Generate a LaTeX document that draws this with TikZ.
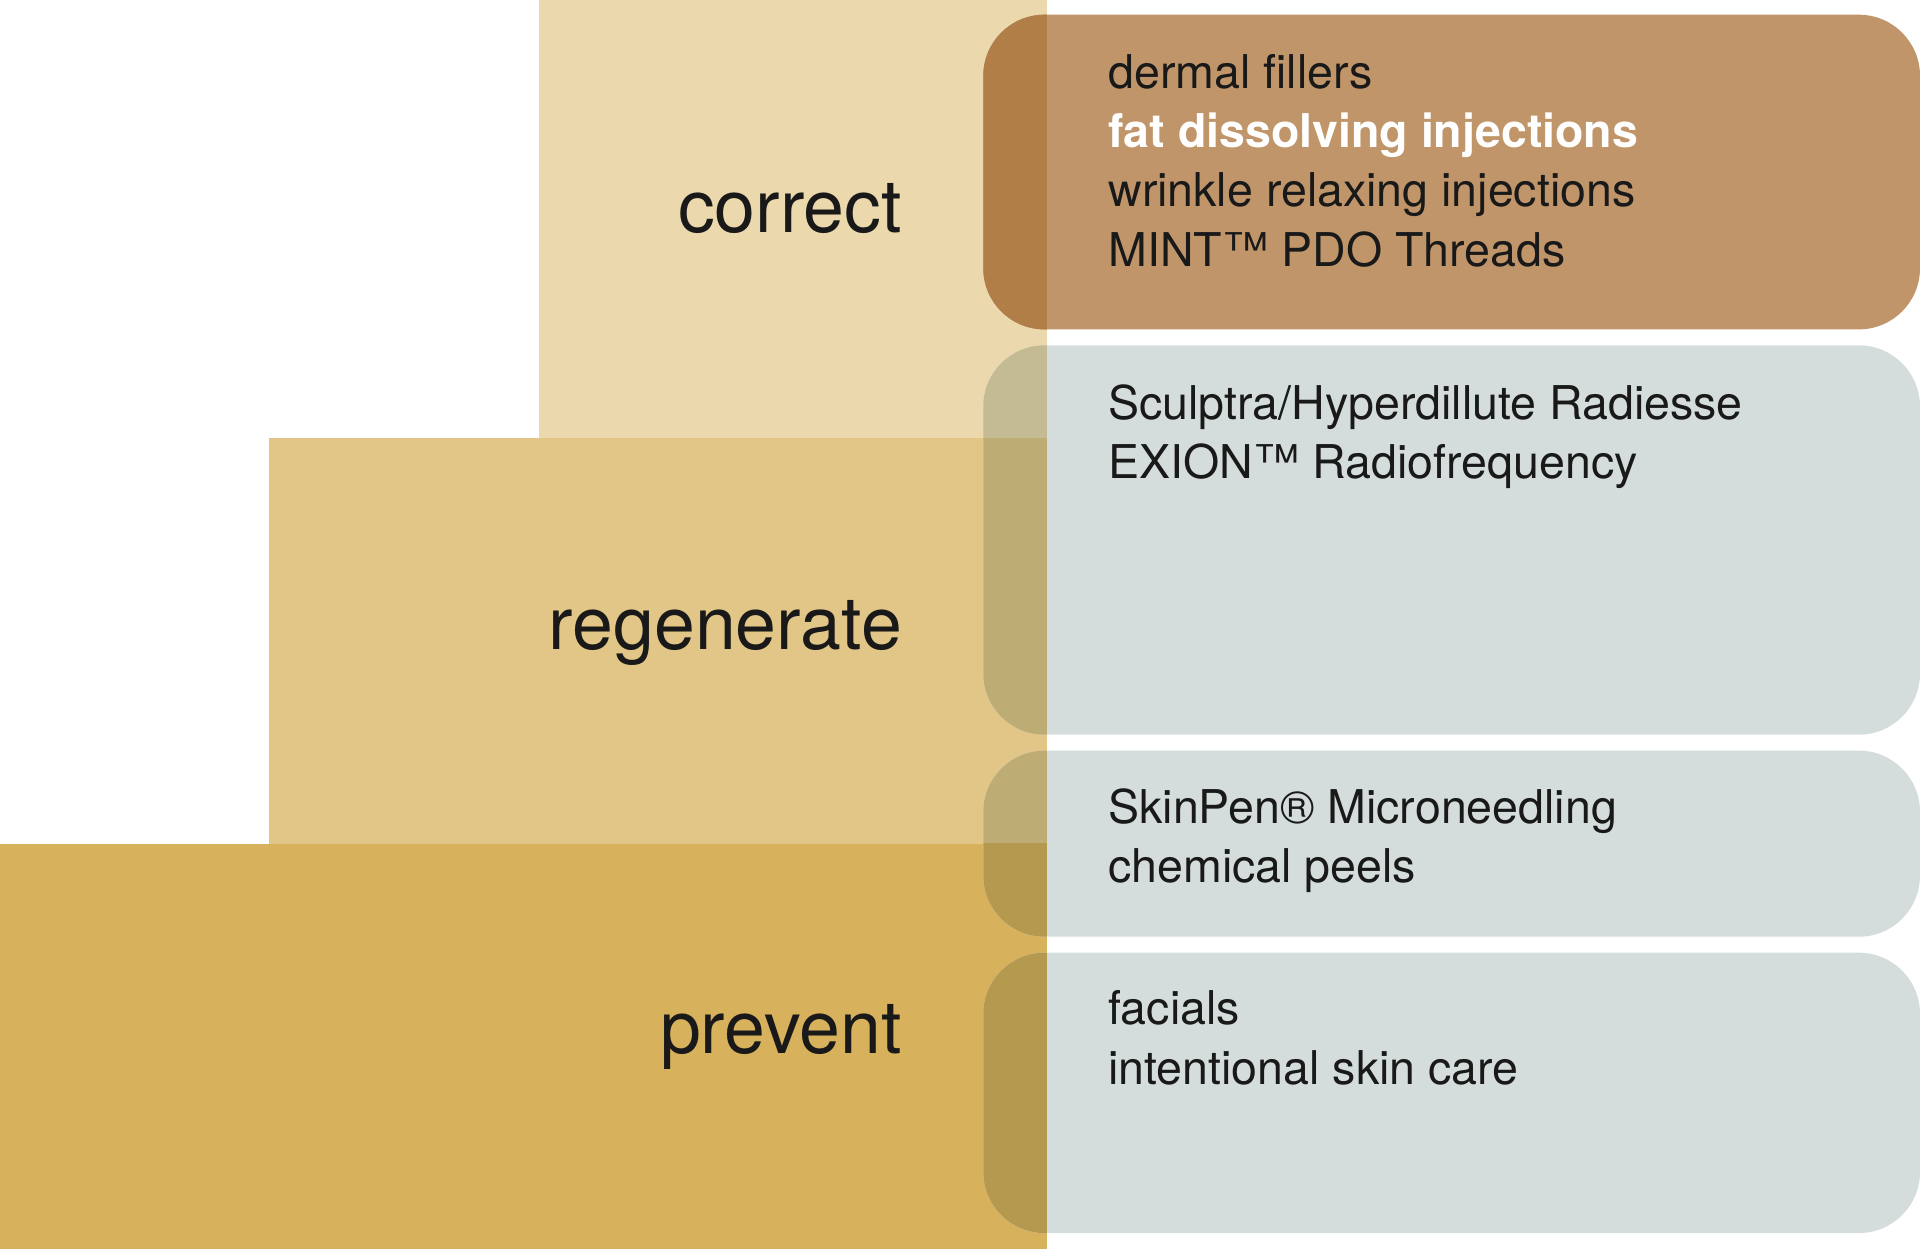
\documentclass[tikz,border=0pt]{standalone}
\usepackage{fontspec}
\setmainfont{TeX Gyre Heros}
\begin{document}
\begin{tikzpicture}[x=1pt,y=-1pt,
  lab/.style={anchor=east,font=\fontsize{60}{60}\selectfont,text=black!90},
  item/.style={anchor=north west,align=left,font=\fontsize{38}{48.5}\selectfont,text=black!90,inner sep=0pt},
  rbox/.style={rounded corners=50pt}]
\definecolor{c1}{HTML}{EBD8AC}\definecolor{c2}{HTML}{E2C687}\definecolor{c3}{HTML}{D7B15C}
\definecolor{br}{HTML}{C0956A}\definecolor{brd}{HTML}{B17E47}
\definecolor{gr}{HTML}{D5DDDC}\definecolor{g1}{HTML}{C4BB94}\definecolor{g2}{HTML}{BDAC74}\definecolor{g3}{HTML}{B4994F}
\useasboundingbox (0,0) rectangle (1568,1020);
\fill[c1] (440,0) rectangle (855,358);
\fill[c2] (220,358) rectangle (855,689);
\fill[c3] (0,689) rectangle (855,1020);
% boxes
\fill[br,rbox] (803,12) rectangle (1568,269);
\fill[gr,rbox] (803,282) rectangle (1568,600);
\fill[gr,rbox] (803,613) rectangle (1568,765);
\fill[gr,rbox] (803,778) rectangle (1568,1007);
\begin{scope}\clip (803,0) rectangle (855,358);
 \fill[brd,rbox] (803,12) rectangle (1568,269);
 \fill[g1,rbox] (803,282) rectangle (1568,600);
\end{scope}
\begin{scope}\clip (803,358) rectangle (855,689);
 \fill[g2,rbox] (803,282) rectangle (1568,600);
 \fill[g2,rbox] (803,613) rectangle (1568,765);
\end{scope}
\begin{scope}\clip (803,689) rectangle (855,1020);
 \fill[g3,rbox] (803,613) rectangle (1568,765);
 \fill[g3,rbox] (803,778) rectangle (1568,1007);
\end{scope}
\node[lab] (lc) at (740,170) {correct};
\node[lab] (lr) at (740,517) {regenerate};
\node[lab] (lp) at (740,847) {prevent};
\node[item] (t1) at (905,44) {dermal fillers\\\textcolor{white}{\bfseries fat dissolving injections}\\wrinkle relaxing injections\\MINT™ PDO Threads};
\node[item] (t2) at (905,314) {Sculptra/Hyperdillute Radiesse\\EXION™ Radiofrequency};
\node[item] (t3) at (905,644) {SkinPen® Microneedling\\chemical peels};
\node[item] (t4) at (905,809) {facials\\intentional skin care};
\end{tikzpicture}
\end{document}
